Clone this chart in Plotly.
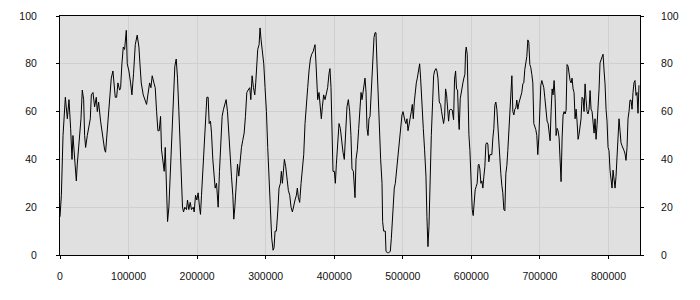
import plotly.graph_objects as go

x_vals = [
    0, 2000, 4400, 6800, 7800, 10700, 13100, 15500, 17500, 18900, 21400, 23800, 25200, 27200, 29100, 30600,
    32500, 34500, 35900, 37400, 39800, 42300, 44200, 45700, 48100, 50500, 52900, 54400, 56300, 59200, 61700,
    65100, 66500, 68500, 69900, 71400, 73300, 74800, 77200, 78700, 80600, 82600, 84500, 87000, 88400, 90300,
    92300, 94200, 96700, 98100, 100500, 103000, 104900, 107300, 109800, 112600, 115100, 116600, 118500,
    121400, 123900, 126300, 128200, 130700, 132600, 134500, 137000, 138900, 140900, 142800,
    144700, 146700, 148100, 150500, 152000, 153500, 154900, 156900, 158800, 160300, 161700, 163700, 165600,
    167500, 169500, 171400, 173400, 175300, 177300, 178700, 180200, 182100, 184500, 186000, 187900, 189900,
    191800, 194300, 195700, 197700, 199600, 201500, 203500, 204900, 206400, 208300, 210300, 212200, 214200,
    216100, 217600, 219500, 221000, 222900, 224900, 226300, 228300, 230700, 232600, 234600, 236500, 238500,
    240400, 242300, 244300, 246200, 248200, 250100, 252100, 253500, 255000, 256900, 258900, 260800, 262700,
    264700, 266600, 268600, 270500, 272500, 274400, 276800, 278300, 280200, 282200, 284100,
    285500, 287000, 288400, 290400, 291800, 293300, 295200, 297200, 299100, 301100, 303000, 305000, 306400,
    307900, 308800, 310800, 312200, 313700, 315600, 317600, 319500, 321500, 322900, 324400, 325800, 327300,
    329200, 331200, 333100, 335100, 337000, 339000, 340900, 342800, 344800, 346200, 347700, 349600, 351600,
    353500, 355500, 357400, 359400, 361300, 363200, 365200, 367100, 369100, 371000, 372000, 373400, 374900,
    375900, 377800, 379800, 381200, 382700, 384600, 386600, 388500, 390400, 392400, 393800, 395300, 396800,
    398200, 400200, 401600, 403100, 405000, 407000, 408900, 410800, 412800, 414700, 416700, 418600, 420600,
    422500, 424400,
    425900, 427900, 429400, 430300, 431800, 433700, 435700, 437600, 439100, 440500, 442000, 443400, 444900,
    446400, 447800, 449300, 450700, 452200, 453600, 455100, 456600, 458000, 459500, 460900, 462400, 463800,
    465800, 467700, 469700, 470600, 472100, 474500, 475500, 477400, 479400, 481800, 483300, 484700, 486200,
    487600, 489100, 491000, 492500, 494000, 495400, 496900, 498800, 500300, 501700, 503200, 504600, 506100,
    507600, 509000, 511000, 512400, 513900, 515300, 516800, 518200, 519700, 521200, 522600, 524600, 526000,
    528000, 529900, 531800, 533800, 535200, 536700, 538200, 539600, 541600, 543500, 545000, 546400, 548400,
    549800, 551300, 553200, 555200, 556600, 558100, 559500, 561000, 562400, 563900, 565400, 566800,
    568200, 570200, 572100, 574100, 575500, 577000, 578400, 579900, 581300, 582300, 583800, 585700, 587700,
    589100, 590600, 591500, 592500, 594000, 594900, 596400, 597900, 599800, 601300, 602700, 604200, 605600,
    607100, 608500, 610000, 611000, 612400, 613900, 615300, 616800, 618300, 619700, 621200, 622600, 624100,
    625500, 627000, 628500, 629900, 631400, 632800, 634300, 635700, 637200, 638700, 640100, 641600, 643000,
    644500, 645900, 647400, 648900, 650300, 651800, 653200, 654700, 656100, 657600, 659100, 660500, 662000,
    663400, 664900, 666300, 667800, 669300, 670700, 672200, 673600, 675100, 676500, 678000, 679500, 680900,
    682400, 683800, 685300, 686700, 688200, 689700, 691100, 692600, 694000, 695500, 696900, 698400, 699900,
    701300, 702800, 704200, 705700, 707100,
    709000, 710500, 712000, 713400, 714900, 716300, 717800, 719200, 720700, 722200, 723600, 725100, 726500,
    728000, 729400, 730900, 732400, 733800, 735300, 736700, 738200, 739600, 741100, 742600, 744000, 745500,
    746900, 748400, 749800, 751300, 752800, 754200, 755700, 757100, 758600, 760000, 761500, 763000, 764400,
    765900, 767300, 768800, 770200, 771700, 773200, 774600, 776100, 777500, 779000, 780400, 781900, 783400,
    784800, 786300, 787700, 789200, 790600, 792100, 793600, 795000, 796500, 797900, 799400, 800800, 802300,
    803800, 805200, 806700, 808100, 809600, 811000, 812500, 814000, 815400, 816900, 818300, 819800, 821200,
    822700, 824200, 825600, 827100, 828500, 830000, 831400, 832900, 834400, 835800, 837300, 838700, 840200,
    841600, 843100, 844500,
]

y_vals = [
    16, 25, 50, 60, 66, 57, 65, 53, 40, 50, 38, 31, 38, 45, 51, 57,
    69, 65, 50, 45, 50, 55, 57, 67, 68, 62, 66, 60, 64, 56, 50,
    44, 43, 51, 54, 60, 67, 74, 77, 72, 66, 66, 72, 69, 70, 80,
    87, 86, 94, 80, 77, 72, 67, 76, 88, 92, 87, 80, 72,
    67, 65, 63, 67, 72, 70, 75, 72, 70, 60, 52,
    52, 58, 44, 37, 35, 45, 30, 14, 20, 30, 40, 55, 66,
    79, 82, 74, 60, 43, 30, 20, 18, 20, 19, 23, 19, 22,
    19, 20, 18, 25, 23, 26, 20, 17, 25, 35, 48, 55, 66,
    66, 55, 56, 51, 40, 32, 28, 30, 20, 35, 50, 58, 61,
    63, 65, 60, 50, 40, 33, 25, 15, 20, 30, 38, 33, 40,
    45, 48, 51, 58, 68, 69, 70, 65, 75, 70, 67,
    72, 80, 86, 88, 95, 90, 86, 80, 70, 60, 45, 30, 22,
    12, 7, 2, 3, 10, 10, 18, 28, 30, 35, 30, 35, 40,
    37, 30, 27, 25, 20, 18, 21, 23, 25, 28, 24, 22, 30,
    35, 42, 55, 65, 70, 77, 82, 84, 85, 87, 88, 80, 70,
    65, 68, 63, 57, 62, 67, 65, 67, 70, 76, 78, 70, 50,
    35, 35, 30, 38, 45, 55, 53, 47, 43, 40, 50, 62, 65,
    60, 50,
    36, 35, 27, 24, 40, 44, 53, 63, 68, 65, 68, 72, 74,
    68, 53, 50, 57, 58, 67, 74, 87, 91, 93, 93, 80, 67,
    49, 40, 30, 14, 10, 10, 1.5, 1, 1, 1.5, 7, 16, 25,
    28, 30, 36, 41, 46, 50, 53, 58.6, 60, 57, 56, 55, 57,
    52, 55, 59, 60, 63, 57, 64, 69.5, 72, 74, 76, 80, 74,
    60, 53, 44, 33, 16, 3.5, 12, 33, 50, 64, 75, 77, 78,
    77, 74, 64, 63, 60, 58, 55, 58, 69.5, 67, 60, 56,
    60.6, 61, 60.6, 56.6, 73.6, 77, 69.5, 69, 57, 52.5, 65.4, 69.5, 72,
    74, 75.6, 84.5, 87, 84, 68, 50.5, 43.7, 28.7, 19, 16.5, 23.3, 27.3,
    28.7, 30, 37.5, 38, 36, 30, 31, 28, 33, 36.9, 46.4, 47, 46.4,
    39, 42, 42, 42, 49, 53, 62.7, 64, 61, 53, 46.4, 39.6, 34,
    29, 26, 19, 18.5, 34, 37.5, 43.7, 53, 62.7, 69.5, 75, 60, 58.6,
    61, 61.5, 64.8, 61, 63.5, 65.4, 66, 68, 71.6, 72, 77.7, 79.7, 83,
    90, 89, 79.7, 78.4, 75.6, 72, 55, 54, 52.5, 50, 42, 49, 65.4,
    71, 73, 71.6, 70, 66,
    60, 56, 55, 52, 47.8, 60, 69.5, 67, 73, 65.4, 50, 53, 52,
    49, 35, 30.7, 49, 58.6, 60, 59, 60.5, 79.7, 79, 75, 73, 72,
    74, 69.5, 68, 57, 61, 56, 48.4, 50.5, 53, 57, 66, 65.4, 60,
    71.6, 65, 60, 59, 61, 68.8, 61, 60, 54.6, 51, 57, 48.4, 54.6,
    60, 69.5, 80.4, 81.8, 82.4, 84, 77, 71.6, 61, 56, 45, 43.7, 35.5,
    30, 28, 35.5, 30, 28, 32.8, 43.7, 53.9, 57, 51.8, 47, 45.7, 45,
    43.7, 42.3, 39.6, 45, 57, 60, 64.8, 64.8, 61, 68, 72.2, 73, 66.8,
    68, 59.3, 71,
]

x_ticks = [0, 100000, 200000, 300000, 400000, 500000, 600000, 700000, 800000]
x_tick_labels = [str(v) for v in x_ticks]
y_ticks = [0, 20, 40, 60, 80, 100]
y_tick_labels = [str(v) for v in y_ticks]

fig = go.Figure()
fig.add_trace(go.Scatter(x=x_vals, y=y_vals, mode="lines",
                         line=dict(color="#000000", width=1), hoverinfo="skip"))
fig.add_trace(go.Scatter(x=[], y=[], yaxis="y2", mode="lines", hoverinfo="skip"))

font = dict(family="Liberation Sans, Arial, sans-serif", size=10.5, color="#111111")
fig.update_layout(
    width=700, height=300,
    margin=dict(l=60, r=60, t=10, b=45),
    paper_bgcolor="#ffffff",
    plot_bgcolor="#e0e0e0",
    showlegend=False,
    font=font,
    xaxis=dict(range=[0, 846000], tickvals=x_ticks, ticktext=x_tick_labels,
               showline=True, linecolor="#000000", linewidth=1, mirror=True,
               ticks="outside", ticklen=3, tickcolor="#000000",
               showgrid=True, gridcolor="#d0d0d0", gridwidth=1, zeroline=False,
               ticklabelstandoff=8, tickfont=font),
    yaxis=dict(range=[0, 100], tickvals=y_ticks, ticktext=y_tick_labels,
               showline=True, linecolor="#000000", linewidth=1,
               ticks="outside", ticklen=3, tickcolor="#000000",
               showgrid=True, gridcolor="#d0d0d0", gridwidth=1, zeroline=False,
               ticklabelstandoff=17, tickfont=font),
    yaxis2=dict(range=[0, 100], tickvals=y_ticks, ticktext=y_tick_labels,
                overlaying="y", side="right", anchor="x",
                showline=True, linecolor="#000000", linewidth=1,
                ticks="outside", ticklen=3, tickcolor="#000000",
                showgrid=False, zeroline=False,
                ticklabelstandoff=15, tickfont=font),
)

fig.write_html("out.html")
